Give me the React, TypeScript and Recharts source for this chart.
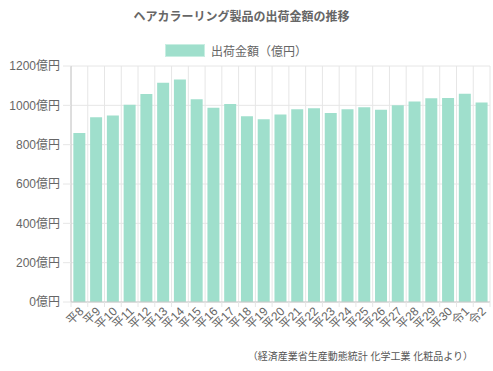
import React from "react";
import { BarChart, Bar, XAxis, YAxis, CartesianGrid } from "recharts";

const categories = ["平8","平9","平10","平11","平12","平13","平14","平15","平16","平17","平18","平19","平20","平21","平22","平23","平24","平25","平26","平27","平28","平29","平30","令1","令2"];
const shipments = [859,940,948,1003,1058,1115,1131,1031,988,1007,945,929,953,980,985,961,980,990,978,1000,1019,1036,1037,1059,1015];
const yTicks = [0,200,400,600,800,1000,1200];

const data = categories.map((c, i) => ({ name: c, value: shipments[i] }));

const FONT = "'Liberation Sans', Arial, 'Noto Sans CJK JP', sans-serif";
const BAR_COLOR = "#9fdfcc";
const GRID = "#e6e6e6";

const XTick = (props: any) => {
  const { x, y, payload, index, visibleTicksCount, width } = props;
  const half = width && visibleTicksCount ? width / visibleTicksCount / 2 : 8.4;
  const ax = x + 5;
  const ay = y + 10;
  return (
    <g>
      <line x1={x - half} x2={x - half} y1={y} y2={y + 5} stroke={GRID} />
      {index === visibleTicksCount - 1 ? <line x1={x + half} x2={x + half} y1={y} y2={y + 5} stroke={GRID} /> : null}
      <text x={ax} y={ay} transform={`rotate(-45 ${ax} ${ay})`} textAnchor="end" fill="#666" fontSize={12} fontFamily={FONT}>
        {payload.value}
      </text>
    </g>
  );
};

export default function App() {
  return (
    <div style={{ position: "absolute", left: 0, top: 0, width: 493, height: 371, fontFamily: FONT, background: "#fff" }}>
      <div style={{ position: "absolute", left: 0, width: 483, top: 7, textAlign: "center", fontSize: 12, fontWeight: "bold", color: "#666" }}>
        ヘアカラーリング製品の出荷金額の推移
      </div>
      <div style={{ position: "absolute", left: 165, top: 42, display: "flex", alignItems: "center" }}>
        <div style={{ width: 38, height: 11, background: BAR_COLOR, border: "1px solid #c8eee2" }} />
        <span style={{ marginLeft: 6, fontSize: 12, color: "#666" }}>出荷金額（億円）</span>
      </div>
      <div style={{ position: "absolute", right: 20, top: 348, fontSize: 10, color: "#555" }}>
        （経済産業省生産動態統計 化学工業 化粧品より）
      </div>
      <BarChart width={493} height={371} data={data} margin={{ top: 66, right: 3, bottom: 29, left: 0 }} barCategoryGap="14%">
        <CartesianGrid
          stroke={GRID}
          verticalCoordinatesGenerator={({ offset }: any) =>
            categories.map((_, i) => offset.left + (i * offset.width) / categories.length).concat([offset.left + offset.width])
          }
        />
        <XAxis
          dataKey="name"
          interval={0}
          tick={<XTick />}
          tickLine={false}
          tickSize={0}
          tickMargin={0}
          height={40}
          axisLine={{ stroke: "#c8c8c8" }}
        />
        <YAxis
          domain={[0, 1200]}
          ticks={yTicks}
          width={71}
          tickSize={8}
          tickMargin={3}
          tickLine={{ stroke: GRID }}
          axisLine={{ stroke: "#c8c8c8" }}
          tickFormatter={(v: number) => `${v}億円`}
          tick={{ fill: "#666", fontSize: 12, fontFamily: FONT }}
        />
        <Bar dataKey="value" fill={BAR_COLOR} isAnimationActive={false} />
      </BarChart>
    </div>
  );
}
